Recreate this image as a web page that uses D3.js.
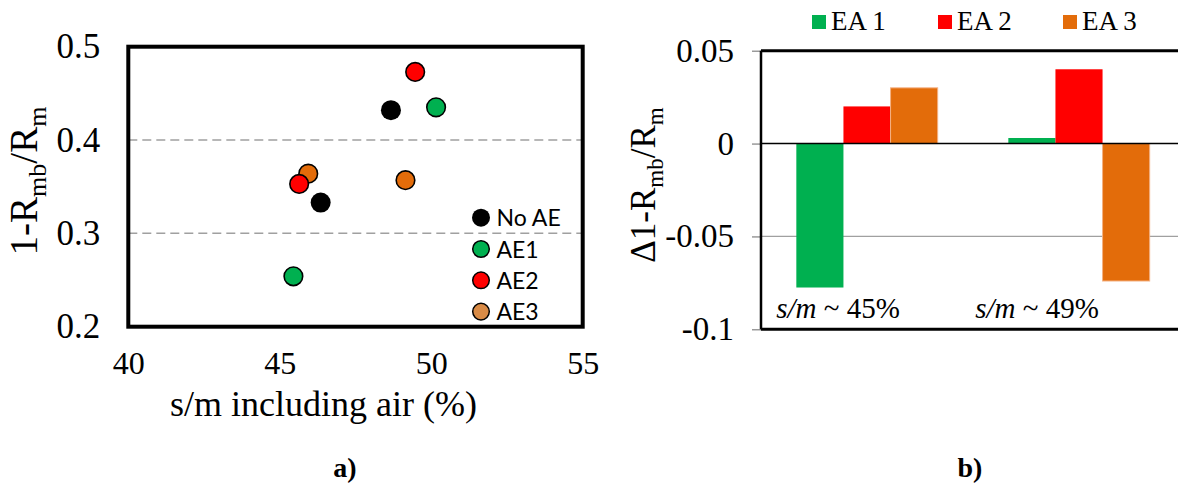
<!DOCTYPE html>
<html>
<head>
<meta charset="utf-8">
<script src="https://cdn.jsdelivr.net/npm/d3@7"></script>
<style>
  html, body { margin: 0; padding: 0; background: #fff; }
  svg { display: block; }
  .serif { font-family: "Liberation Serif", "Times New Roman", serif; }
  .sans { font-family: Lato, "Open Sans", sans-serif; }
</style>
</head>
<body>
<svg id="chart" width="1178" height="491"></svg>
<script>
// ---------------- DATA ----------------
// Panel a) scatter
const seriesNames = ["No AE", "AE1", "AE2", "AE3"];
const noAE_x = [46.35, 48.67];
const noAE_y = [0.333, 0.432];
const ae1_x = [45.45, 50.16];
const ae1_y = [0.254, 0.435];
const ae2_x = [45.64, 49.47];
const ae2_y = [0.353, 0.473];
const ae3_x = [45.94, 49.15];
const ae3_y = [0.364, 0.357];
const xTicksA = [40, 45, 50, 55];
const yTicksA = [0.2, 0.3, 0.4, 0.5];

// Panel b) bars
const categoriesB = ["s/m ~ 45%", "s/m ~ 49%"];
const barSeries = ["EA 1", "EA 2", "EA 3"];
const ea1 = [-0.0775, 0.003];
const ea2 = [0.020, 0.040];
const ea3 = [0.030, -0.074];
const yTicksB = [0.05, 0, -0.05, -0.1];

// ---------------- STYLE ----------------
const scatterColors = { "No AE": "#000000", "AE1": "#00B050", "AE2": "#FF0000", "AE3": "#E36C0A" };
const legendColorsA = { "No AE": "#000000", "AE1": "#00B050", "AE2": "#FF0000", "AE3": "#D98B46" };
const barColors = { "EA 1": "#00B050", "EA 2": "#FF0000", "EA 3": "#E36C0A" };

const svg = d3.select("#chart");
svg.append("rect").attr("width", 1178).attr("height", 491).attr("fill", "#fff");

// ================= PANEL A =================
const A = { left: 128.3, right: 582.7, top: 46.7, bottom: 326.7 };
const xA = d3.scaleLinear().domain([40, 55]).range([A.left, A.right]);
const yA = d3.scaleLinear().domain([0.2, 0.5]).range([A.bottom, A.top]);

const gA = svg.append("g");

// dashed gridlines
gA.selectAll("line.grid").data([0.3, 0.4]).enter().append("line")
  .attr("x1", A.left).attr("x2", A.right)
  .attr("y1", d => yA(d)).attr("y2", d => yA(d))
  .attr("stroke", "#A0A0A0").attr("stroke-width", 1.5)
  .attr("stroke-dasharray", "9,5");

// axes (labels only)
const axL = gA.append("g").attr("transform", `translate(${A.left},0)`)
  .call(d3.axisLeft(yA).tickValues(yTicksA).tickFormat(d3.format(".1f")).tickSize(0).tickPadding(28));
axL.select(".domain").remove();
axL.attr("font-family", null).attr("font-size", null);
axL.selectAll("text").attr("class", "serif").style("font-size", "35px").attr("fill", "#000");

const axB = gA.append("g").attr("transform", `translate(0,${A.bottom})`)
  .call(d3.axisBottom(xA).tickValues(xTicksA).tickFormat(d3.format("d")).tickSize(0).tickPadding(25));
axB.select(".domain").remove();
axB.attr("font-family", null).attr("font-size", null);
axB.selectAll("text").attr("class", "serif").style("font-size", "32px").attr("fill", "#000");

// frame
gA.append("rect")
  .attr("x", A.left).attr("y", A.top)
  .attr("width", A.right - A.left).attr("height", A.bottom - A.top)
  .attr("fill", "none").attr("stroke", "#000").attr("stroke-width", 4);

// points
const scatterData = [
  { name: "No AE", xs: noAE_x, ys: noAE_y },
  { name: "AE1", xs: ae1_x, ys: ae1_y },
  { name: "AE3", xs: ae3_x, ys: ae3_y },
  { name: "AE2", xs: ae2_x, ys: ae2_y }
];
scatterData.forEach(s => {
  const pts = s.xs.map((x, i) => ({ x: x, y: s.ys[i] }));
  gA.selectAll(null).data(pts).enter().append("circle")
    .attr("cx", d => xA(d.x)).attr("cy", d => yA(d.y))
    .attr("r", s.name === "No AE" ? 10 : 9.3)
    .attr("fill", scatterColors[s.name])
    .attr("stroke", "#000").attr("stroke-width", s.name === "No AE" ? 0 : 1.6);
});

// legend
const legA = gA.append("g");
seriesNames.forEach((n, i) => {
  const cy = 217.7 + i * 31.3;
  legA.append("circle").attr("cx", 481).attr("cy", cy)
    .attr("r", n === "No AE" ? 9 : 8.3)
    .attr("fill", legendColorsA[n])
    .attr("stroke", "#000").attr("stroke-width", n === "No AE" ? 0 : 1.5);
  legA.append("text").attr("x", 496.5).attr("y", cy + 8.5)
    .attr("class", "sans").style("font-size", "23px").attr("fill", "#000")
    .text(n);
});

// axis titles
gA.append("text")
  .attr("x", 323.5).attr("y", 416)
  .attr("text-anchor", "middle")
  .attr("class", "serif").style("font-size", "36px").attr("fill", "#000")
  .text("s/m including air (%)");

const yTitleA = gA.append("text")
  .attr("transform", "translate(37,181) rotate(-90)")
  .attr("text-anchor", "middle")
  .attr("class", "serif").style("font-size", "39px").attr("fill", "#000");
yTitleA.append("tspan").text("1-R");
yTitleA.append("tspan").style("font-size", "26px").attr("dy", 9).text("mb");
yTitleA.append("tspan").attr("dy", -9).text("/R");
yTitleA.append("tspan").style("font-size", "26px").attr("dy", 9).text("m");

// panel label
svg.append("text").attr("x", 345).attr("y", 477).attr("text-anchor", "middle")
  .attr("class", "serif").style("font-weight", "bold").style("font-size", "28px").attr("fill", "#000")
  .text("a)");

// ================= PANEL B =================
const B = { left: 761, right: 1185, top: 50.7, bottom: 329.3 };
const x0B = d3.scaleBand().domain(categoriesB).range([B.left, B.right])
  .paddingInner(1 / 3).paddingOuter(1 / 6);
const x1B = d3.scaleBand().domain(barSeries).range([0, x0B.bandwidth()]);
const yB = d3.scaleLinear().domain([-0.1, 0.05]).range([B.bottom, B.top]);

const gB = svg.append("g");

// gridline at -0.05
gB.append("line")
  .attr("x1", B.left).attr("x2", 1178)
  .attr("y1", yB(-0.05)).attr("y2", yB(-0.05))
  .attr("stroke", "#A0A0A0").attr("stroke-width", 1.2);

// bars
const barValues = { "EA 1": ea1, "EA 2": ea2, "EA 3": ea3 };
categoriesB.forEach((c, ci) => {
  barSeries.forEach(s => {
    const v = barValues[s][ci];
    gB.append("rect")
      .attr("x", x0B(c) + x1B(s))
      .attr("width", x1B.bandwidth())
      .attr("y", yB(Math.max(0, v)))
      .attr("height", Math.abs(yB(v) - yB(0)))
      .attr("fill", barColors[s])
      .attr("stroke", s === "EA 3" ? "#F4B183" : "none")
      .attr("stroke-width", 1);
  });
});

// zero line
gB.append("line")
  .attr("x1", B.left).attr("x2", 1178)
  .attr("y1", yB(0)).attr("y2", yB(0))
  .attr("stroke", "#000").attr("stroke-width", 1.5);

// y axis
const axBL = gB.append("g").attr("transform", `translate(${B.left},0)`)
  .call(d3.axisLeft(yB).tickValues(yTicksB).tickFormat(d => String(d)).tickSize(9).tickPadding(18));
axBL.select(".domain").remove();
axBL.attr("font-family", null).attr("font-size", null);
axBL.selectAll(".tick line").attr("stroke", "#808080").attr("stroke-width", 1.2);
axBL.selectAll("text").attr("class", "serif").style("font-size", "33px").attr("fill", "#000");

// frame (top, bottom, left; right edge falls outside the picture)
gB.append("line").attr("x1", B.left).attr("x2", 1178).attr("y1", B.top).attr("y2", B.top)
  .attr("stroke", "#000").attr("stroke-width", 3);
gB.append("line").attr("x1", B.left).attr("x2", 1178).attr("y1", B.bottom).attr("y2", B.bottom)
  .attr("stroke", "#000").attr("stroke-width", 3);
gB.append("line").attr("x1", B.left).attr("x2", B.left).attr("y1", B.top).attr("y2", B.bottom)
  .attr("stroke", "#000").attr("stroke-width", 2.5);

// category labels inside plot
categoriesB.forEach((c, ci) => {
  const t = gB.append("text")
    .attr("x", x0B(c) + x0B.bandwidth() / 2 - (ci === 0 ? 29 : 42))
    .attr("y", 318)
    .attr("text-anchor", "middle")
    .attr("class", "serif").style("font-size", "29px").attr("fill", "#000");
  const parts = c.split(" ");
  t.append("tspan").style("font-style", "italic").text(parts[0]);
  t.append("tspan").text(" " + parts.slice(1).join(" "));
});

// legend
const legXs = [812, 938, 1063];
barSeries.forEach((s, i) => {
  gB.append("rect").attr("x", legXs[i]).attr("y", 15).attr("width", 14).attr("height", 14)
    .attr("fill", barColors[s]);
  gB.append("text").attr("x", legXs[i] + 19).attr("y", 30)
    .attr("class", "serif").style("font-size", "27px").attr("fill", "#000")
    .text(s);
});

// y title
const yTitleB = gB.append("text")
  .attr("transform", "translate(655,185) rotate(-90)")
  .attr("text-anchor", "middle")
  .attr("class", "serif").style("font-size", "35px").attr("fill", "#000");
yTitleB.append("tspan").text("Δ1-R");
yTitleB.append("tspan").style("font-size", "23px").attr("dy", 8).text("mb");
yTitleB.append("tspan").attr("dy", -8).text("/R");
yTitleB.append("tspan").style("font-size", "23px").attr("dy", 8).text("m");

svg.append("text").attr("x", 970).attr("y", 477).attr("text-anchor", "middle")
  .attr("class", "serif").style("font-weight", "bold").style("font-size", "28px").attr("fill", "#000")
  .text("b)");
</script>
</body>
</html>
